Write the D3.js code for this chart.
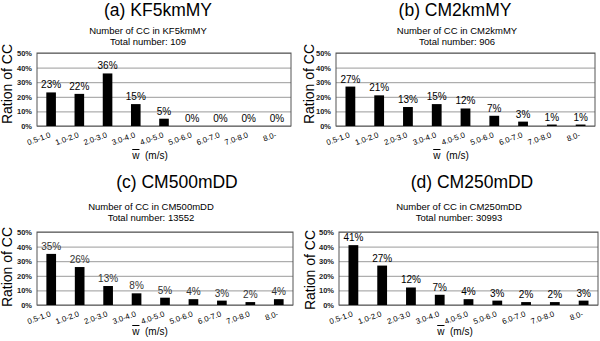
<!DOCTYPE html>
<html>
<head>
<meta charset="utf-8">
<script src="https://cdn.jsdelivr.net/npm/d3@7"></script>
<style>
  body { margin: 0; background: #fff; }
  svg { display: block; font-family: "Liberation Sans", Arial, sans-serif; }
</style>
</head>
<body>
<div id="chart"></div>
<script>
// data
const categories = ['0.5-1.0', '1.0-2.0', '2.0-3.0', '3.0-4.0', '4.0-5.0', '5.0-6.0', '6.0-7.0', '7.0-8.0', '8.0-'];
const modelNames = ['KF5kmMY', 'CM2kmMY', 'CM500mDD', 'CM250mDD'];
const panelTitles = ['(a) KF5kmMY', '(b) CM2kmMY', '(c) CM500mDD', '(d) CM250mDD'];
const totals = [109, 906, 13552, 30993];
const valuesKF5kmMY = [23, 22, 36, 15, 5, 0, 0, 0, 0];
const valuesCM2kmMY = [27, 21, 13, 15, 12, 7, 3, 1, 1];
const valuesCM500mDD = [35, 26, 13, 8, 5, 4, 3, 2, 4];
const valuesCM250mDD = [41, 27, 12, 7, 4, 3, 2, 2, 3];
const yTicks = [0, 10, 20, 30, 40, 50];
const seriesValues = [valuesKF5kmMY, valuesCM2kmMY, valuesCM500mDD, valuesCM250mDD];

// panel boxes (layout only)
const layout = [
	{x0: 37, x1: 291, y0: 53, y1: 126, titleX: 158, titleY: 16, subX: 148, subY: 33.5, ylabX: 12, ylabY: 84, xtitX: 150, xtitY: 159},
	{x0: 336, x1: 595, y0: 53, y1: 126, titleX: 455, titleY: 16, subX: 457, subY: 33.5, ylabX: 314, ylabY: 84, xtitX: 451, xtitY: 159},
	{x0: 37, x1: 293, y0: 232, y1: 305, titleX: 177, titleY: 188, subX: 151, subY: 209.5, ylabX: 12, ylabY: 267, xtitX: 150, xtitY: 335},
	{x0: 339, x1: 598, y0: 232, y1: 305, titleX: 472, titleY: 188, subX: 459, subY: 210, ylabX: 315, ylabY: 270, xtitX: 455, xtitY: 335}
];

const width = 600, height = 341;

const svg = d3.select('#chart').append('svg')
	.attr('width', width)
	.attr('height', height);

layout.forEach((L, i) => {
	const values = seriesValues[i];
	const g = svg.append('g').attr('class', 'panel');

	const x = d3.scaleBand()
		.domain(categories)
		.range([L.x0, L.x1])
		.paddingInner(0.66)
		.paddingOuter(0.33);

	const y = d3.scaleLinear()
		.domain([0, 50])
		.range([L.y1, L.y0]);

	// gridlines + y tick labels
	const yAxis = g.append('g')
		.attr('class', 'y axis')
		.attr('transform', `translate(${L.x0},0)`)
		.call(d3.axisLeft(y).tickValues(yTicks).tickSize(-(L.x1 - L.x0)).tickPadding(5).tickFormat(d => d + '%'));
	yAxis.select('.domain').remove();
	yAxis.selectAll('line').attr('stroke', '#9a9a9a').attr('stroke-width', 1);
	yAxis.selectAll('text')
		.attr('font-size', 7.5)
		.attr('font-weight', 'bold')
		.attr('fill', '#222');

	// frame
	g.append('rect')
		.attr('x', L.x0)
		.attr('y', L.y0)
		.attr('width', L.x1 - L.x0)
		.attr('height', L.y1 - L.y0)
		.attr('fill', 'none')
		.attr('stroke', '#555')
		.attr('stroke-width', 1);

	// bars
	g.selectAll('rect.bar')
		.data(values)
		.join('rect')
		.attr('class', 'bar')
		.attr('x', (d, j) => x(categories[j]))
		.attr('y', d => y(d))
		.attr('width', x.bandwidth())
		.attr('height', d => y(0) - y(d))
		.attr('fill', '#000');

	// value labels
	g.selectAll('text.val')
		.data(values)
		.join('text')
		.attr('class', 'val')
		.attr('x', (d, j) => x(categories[j]) + x.bandwidth() / 2)
		.attr('y', d => y(d) - 4)
		.attr('text-anchor', 'middle')
		.attr('font-size', 10)
		.attr('fill', i === 2 ? '#333' : '#000')
		.text(d => d + '%');

	// x category labels
	const xAxis = g.append('g')
		.attr('class', 'x axis')
		.attr('transform', `translate(0,${L.y1})`)
		.call(d3.axisBottom(x).tickSize(0).tickPadding(0));
	xAxis.select('.domain').remove();
	xAxis.selectAll('text')
		.attr('font-size', 7.8)
		.attr('fill', '#000')
		.attr('text-anchor', 'end')
		.attr('dy', 0)
		.attr('y', 0)
		.attr('transform', 'translate(0,11) rotate(-20)');

	// x axis title
	const xt = g.append('text')
		.attr('x', L.xtitX)
		.attr('y', L.xtitY)
		.attr('text-anchor', 'middle')
		.attr('font-size', 10)
		.attr('fill', '#000');
	xt.append('tspan').attr('text-decoration', 'overline').text('w');
	xt.append('tspan').text('\u00a0\u00a0(m/s)');

	// y axis title
	g.append('text')
		.attr('transform', `translate(${L.ylabX},${L.ylabY}) rotate(-90)`)
		.attr('text-anchor', 'middle')
		.attr('font-size', 14)
		.attr('fill', '#000')
		.text('Ration of CC');

	// panel title
	g.append('text')
		.attr('x', L.titleX)
		.attr('y', L.titleY)
		.attr('text-anchor', 'middle')
		.attr('font-size', 17.5)
		.attr('fill', '#000')
		.text(panelTitles[i]);

	// subtitle
	g.append('text')
		.attr('x', L.subX)
		.attr('y', L.subY)
		.attr('text-anchor', 'middle')
		.attr('font-size', 9.5)
		.attr('fill', '#000')
		.text(`Number of CC in ${modelNames[i]}`);
	g.append('text')
		.attr('x', L.subX)
		.attr('y', L.subY + 11)
		.attr('text-anchor', 'middle')
		.attr('font-size', 9.5)
		.attr('fill', '#000')
		.text(`Total number: ${totals[i]}`);
});
</script>
</body>
</html>
